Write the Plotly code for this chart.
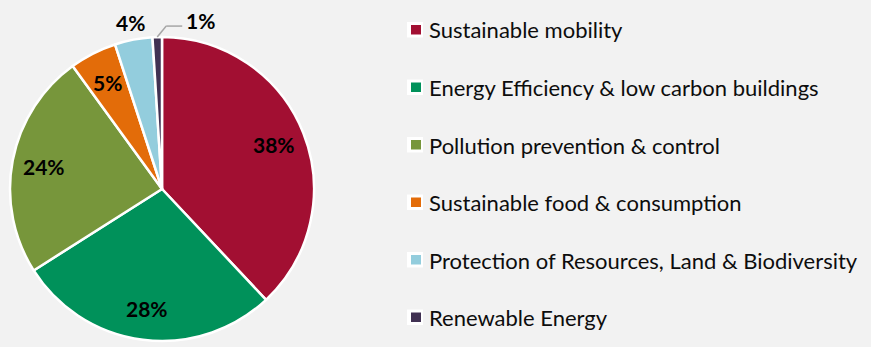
import math
import plotly.graph_objects as go

# Share of allocation by project category
categories = [
    "Sustainable mobility",
    "Energy Efficiency & low carbon buildings",
    "Pollution prevention & control",
    "Sustainable food & consumption",
    "Protection of Resources, Land & Biodiversity",
    "Renewable Energy",
]
shares = [38, 28, 24, 5, 4, 1]
colors = ["#A20F32", "#00915A", "#77963B", "#E36C09", "#93CDDD", "#403152"]

W, H = 871, 347
BG = "#F2F2F2"
FONT = "Lato, 'Open Sans', sans-serif"

# Pie placement in pixels
cx, cy, R = 162, 189, 152


def px(x, y):
    """Pixel position -> paper coordinates."""
    return x / W, 1 - y / H


fig = go.Figure(
    go.Pie(
        labels=categories,
        values=shares,
        sort=False,
        direction="clockwise",
        rotation=0,
        marker=dict(colors=colors, line=dict(color="white", width=2.5)),
        textinfo="none",
        hoverinfo="label+value",
        showlegend=False,
        domain=dict(x=[(cx - R) / W, (cx + R) / W], y=[1 - (cy + R) / H, 1 - (cy - R) / H]),
    )
)

annotations = []
shapes = []

# Percentage labels placed at each slice's mid-angle
total = sum(shares)
cum = 0
for i, v in enumerate(shares):
    mid = (cum + v / 2) / total * 2 * math.pi
    cum += v
    if v >= 5:
        r = 0.79 * R
    else:
        r = R + 18
    lx = cx + r * math.sin(mid)
    ly = cy - r * math.cos(mid)
    if i == len(shares) - 1:
        # small slice: leader line out to the right
        ex = cx + R * math.sin(mid)
        ey = cy - R * math.cos(mid)
        elbow = (ex + 9, ey - 11)
        end = (elbow[0] + 16, elbow[1])
        for a, b in [((ex, ey), elbow), (elbow, end)]:
            x0, y0 = px(*a)
            x1, y1 = px(*b)
            shapes.append(dict(type="line", xref="paper", yref="paper", x0=x0, y0=y0, x1=x1, y1=y1,
                               line=dict(color="#A6A6A6", width=1.5)))
        lx, ly = end[0] + 18, end[1] - 6
    ax, ay = px(lx, ly)
    annotations.append(dict(x=ax, y=ay, xref="paper", yref="paper", text=f"<b>{v}%</b>",
                            showarrow=False, xanchor="center", yanchor="middle",
                            font=dict(family=FONT, size=21, color="#000000")))

# Legend drawn as boxes with labels
for i, (name, col) in enumerate(zip(categories, colors)):
    yc = 30 + 57.5 * i
    x0, y0 = px(407, yc - 8)
    x1, y1 = px(423, yc + 7.5)
    shapes.append(dict(type="rect", xref="paper", yref="paper", x0=x0, y0=y0, x1=x1, y1=y1,
                       fillcolor="white", line=dict(width=0)))
    x0, y0 = px(411, yc - 5)
    x1, y1 = px(421, yc + 4.5)
    shapes.append(dict(type="rect", xref="paper", yref="paper", x0=x0, y0=y0, x1=x1, y1=y1,
                       fillcolor=col, line=dict(width=0)))
    tx, ty = px(427, yc)
    annotations.append(dict(x=tx, y=ty, xref="paper", yref="paper", text=name, showarrow=False,
                            xanchor="left", yanchor="middle",
                            font=dict(family=FONT, size=22, color="#0D0D0D")))

fig.update_layout(
    width=W,
    height=H,
    margin=dict(l=0, r=0, t=0, b=0),
    paper_bgcolor=BG,
    plot_bgcolor=BG,
    annotations=annotations,
    shapes=shapes,
)

fig.write_html("out.html")
